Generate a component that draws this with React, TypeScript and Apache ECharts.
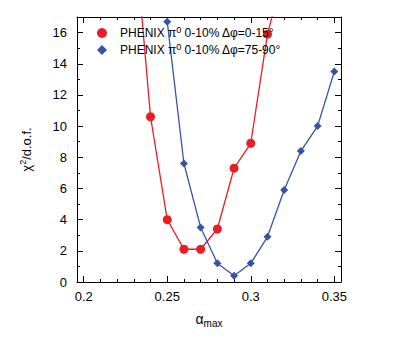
import React, { useEffect, useRef } from "react";
import * as echarts from "echarts";

const redName = "PHENIX π0 0-10% Δφ=0-15°";
const blueName = "PHENIX π0 0-10% Δφ=75-90°";
const redX = [0.23, 0.24, 0.25, 0.26, 0.27, 0.28, 0.29, 0.30, 0.31, 0.32];
const redY = [23, 10.6, 4.0, 2.1, 2.1, 3.4, 7.3, 8.9, 15.9, 20];
const blueX = [0.25, 0.26, 0.27, 0.28, 0.29, 0.30, 0.31, 0.32, 0.33, 0.34, 0.35];
const blueY = [16.7, 7.6, 3.5, 1.2, 0.4, 1.2, 2.9, 5.9, 8.4, 10.0, 13.5];
const xMajor = [0.2, 0.25, 0.3, 0.35];
const xMinor = [0.21, 0.22, 0.23, 0.24, 0.26, 0.27, 0.28, 0.29, 0.31, 0.32, 0.33, 0.34];
const yMajor = [0, 2, 4, 6, 8, 10, 12, 14, 16];
const yMinor = [1, 3, 5, 7, 9, 11, 13, 15];

const FONT = "Liberation Sans";

export default function App() {
  const ref = useRef<HTMLDivElement>(null);
  useEffect(() => {
    const chart = echarts.init(ref.current!, null, { renderer: "svg" });
    const xBase = (pos: string, major: boolean, idx: number) => ({
      type: "value",
      position: pos,
      min: 0.196,
      max: 0.354,
      gridIndex: 0,
      axisLine: { show: idx === 0 || idx === 1, onZero: false, lineStyle: { color: "#000", width: 1 } },
      axisTick: {
        show: true,
        inside: true,
        length: major ? 6 : 3,
        customValues: major ? xMajor : xMinor,
        lineStyle: { color: "#000", width: 1 },
      },
      axisLabel: {
        show: idx === 0,
        customValues: xMajor,
        fontFamily: FONT,
        fontSize: 13,
        color: "#000",
        margin: 8,
      },
      splitLine: { show: false },
    });
    const yBase = (pos: string, major: boolean, idx: number) => ({
      type: "value",
      position: pos,
      min: 0,
      max: 17,
      gridIndex: 0,
      axisLine: { show: idx === 0 || idx === 1, onZero: false, lineStyle: { color: "#000", width: 1 } },
      axisTick: {
        show: true,
        inside: true,
        length: major ? 6 : 3,
        customValues: major ? yMajor : yMinor,
        lineStyle: { color: "#000", width: 1 },
      },
      axisLabel: {
        show: idx === 0,
        customValues: yMajor,
        fontFamily: FONT,
        fontSize: 13,
        color: "#000",
        margin: 10,
      },
      splitLine: { show: false },
    });
    const xAxes: any[] = [
      xBase("bottom", true, 0),
      xBase("top", true, 1),
      xBase("bottom", false, 2),
      xBase("top", false, 3),
    ];
    xAxes[0].name = "{a|α}{s|max}";
    xAxes[0].nameLocation = "middle";
    xAxes[0].nameGap = 28;
    xAxes[0].nameTextStyle = {
      rich: {
        a: { fontFamily: FONT, fontSize: 14, color: "#000" },
        s: { fontFamily: FONT, fontSize: 10, color: "#000", padding: [8, 0, 0, 0] },
      },
    };
    const yAxes: any[] = [
      yBase("left", true, 0),
      yBase("right", true, 1),
      yBase("left", false, 2),
      yBase("right", false, 3),
    ];
    yAxes[0].name = "{a|χ}{s|2}{a|/d.o.f.}";
    yAxes[0].nameLocation = "middle";
    yAxes[0].nameGap = 42;
    yAxes[0].nameTextStyle = {
      rich: {
        a: { fontFamily: FONT, fontSize: 13, color: "#000" },
        s: { fontFamily: FONT, fontSize: 9, color: "#000", padding: [0, 0, 8, 0] },
      },
    };
    chart.setOption({
      animation: false,
      backgroundColor: "#fff",
      grid: { left: 77, right: 54, top: 17, bottom: 63, containLabel: false },
      xAxis: xAxes,
      yAxis: yAxes,
      legend: {
        left: 97,
        top: 25,
        orient: "vertical",
        padding: 0,
        itemWidth: 10,
        itemHeight: 10,
        itemGap: 3,
        selectedMode: false,
        data: [
          { name: redName, icon: "circle" },
          { name: blueName, icon: "diamond" },
        ],
        formatter: (n: string) => "{p|}{a|" + n.replace("π0", "π}{s|0}{a|") + "}",
        textStyle: {
          rich: {
            p: { width: 8 },
            a: { fontFamily: FONT, fontSize: 12, color: "#000" },
            s: { fontFamily: FONT, fontSize: 9, color: "#000", padding: [0, 0, 7, 0] },
          },
        },
      },
      series: [
        {
          name: redName,
          type: "line",
          xAxisIndex: 0,
          yAxisIndex: 0,
          data: redX.map((x, i) => [x, redY[i]]),
          symbol: "circle",
          symbolSize: 9,
          clip: true,
          itemStyle: { color: "#ec1c24" },
          lineStyle: { color: "#ec1c24", width: 1.3 },
        },
        {
          name: blueName,
          type: "line",
          xAxisIndex: 0,
          yAxisIndex: 0,
          data: blueX.map((x, i) => [x, blueY[i]]),
          symbol: "diamond",
          symbolSize: 8,
          clip: true,
          itemStyle: { color: "#3953a4" },
          lineStyle: { color: "#3953a4", width: 1.3 },
        },
      ],
    });
    return () => chart.dispose();
  }, []);
  return <div ref={ref} style={{ width: 395, height: 345, margin: -8 }} />;
}
